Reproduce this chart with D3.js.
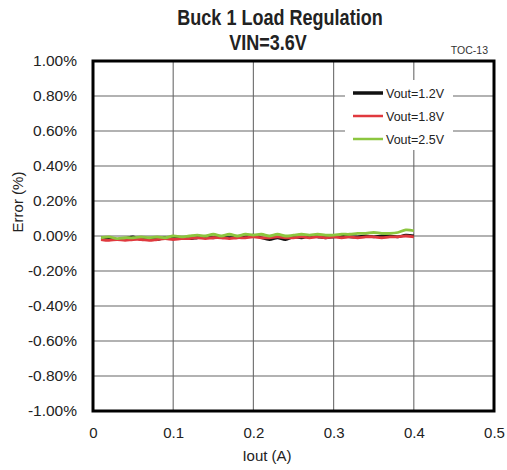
<!DOCTYPE html>
<html><head><meta charset="utf-8">
<script src="https://cdn.jsdelivr.net/npm/d3@7"></script>
<style>body{margin:0;background:#fff}text{font-family:"Liberation Sans",Arial,sans-serif}</style>
</head><body>
<svg id="c" width="507" height="470"></svg>
<script>
const titleLines = ["Buck 1 Load Regulation", "VIN=3.6V"];
const note = "TOC-13";
const xTicks = [0, 0.1, 0.2, 0.3, 0.4, 0.5];
const yTicks = [-1.0, -0.8, -0.6, -0.4, -0.2, 0, 0.2, 0.4, 0.6, 0.8, 1.0];
const seriesNames = ["Vout=1.2V", "Vout=1.8V", "Vout=2.5V"];
const seriesColors = ["#111111", "#e0393e", "#8cc63f"];
const iout = [0.01,0.02,0.03,0.04,0.05,0.06,0.07,0.08,0.09,0.10,0.11,0.12,0.13,0.14,0.15,0.16,0.17,0.18,0.19,0.20,
              0.21,0.22,0.23,0.24,0.25,0.26,0.27,0.28,0.29,0.30,0.31,0.32,0.33,0.34,0.35,0.36,0.37,0.38,0.39,0.40];
const v12 = [-0.010,-0.015,-0.020,-0.015,-0.005,-0.020,-0.015,-0.020,-0.010,-0.015,-0.010,-0.015,-0.010,-0.005,-0.010,-0.005,-0.010,-0.005,-0.005,0.005,
             -0.010,-0.020,-0.010,-0.020,-0.005,-0.010,0.000,-0.005,-0.010,-0.005,0.000,-0.005,-0.005,0.000,-0.005,0.000,0.000,-0.005,0.005,0.000];
const v18 = [-0.020,-0.025,-0.020,-0.025,-0.020,-0.020,-0.025,-0.020,-0.015,-0.020,-0.015,-0.015,-0.010,-0.015,-0.010,-0.010,-0.015,-0.010,-0.010,-0.005,
             -0.010,-0.010,-0.005,-0.010,-0.010,-0.005,-0.010,-0.005,-0.010,-0.005,-0.010,-0.005,-0.010,-0.005,-0.005,-0.010,-0.005,-0.005,0.000,-0.005];
const v25 = [-0.010,-0.005,-0.015,-0.010,-0.010,-0.005,-0.010,-0.005,-0.010,0.000,-0.005,0.000,0.005,0.000,0.010,0.000,0.010,0.000,0.010,0.005,
             0.010,0.000,0.010,0.000,0.005,0.010,0.005,0.010,0.005,0.005,0.010,0.010,0.015,0.015,0.020,0.015,0.015,0.020,0.035,0.030];
const seriesValues = [v12, v18, v25];

const svg = d3.select("#c");
const L = 93, R = 494, T = 61, B = 411;
const x = d3.scaleLinear().domain([0, 0.5]).range([L, R]);
const y = d3.scaleLinear().domain([-1, 1]).range([B, T]);

// grid
const g = svg.append("g");
g.selectAll("line.v").data(xTicks.slice(1, -1)).enter().append("line")
  .attr("x1", d => x(d)).attr("x2", d => x(d)).attr("y1", T).attr("y2", B)
  .attr("stroke", "#777").attr("stroke-width", 1.2);
g.selectAll("line.h").data(yTicks.slice(1, -1)).enter().append("line")
  .attr("x1", L).attr("x2", R).attr("y1", d => y(d)).attr("y2", d => y(d))
  .attr("stroke", "#666").attr("stroke-width", 1.2);

const xAxis = svg.append("g").attr("transform", `translate(0,${B})`)
  .call(d3.axisBottom(x).tickValues(xTicks).tickSize(0).tickPadding(16).tickFormat(d => d === 0 ? "0" : d3.format(".1f")(d)));
xAxis.select(".domain").remove();
xAxis.selectAll("text").attr("font-size", 15).attr("fill", "#222").style("font-family", '"Liberation Sans",Arial,sans-serif');

const yAxis = svg.append("g").attr("transform", `translate(${L},0)`)
  .call(d3.axisLeft(y).tickValues(yTicks).tickSize(0).tickPadding(16).tickFormat(d => d.toFixed(2) + "%"));
yAxis.select(".domain").remove();
yAxis.selectAll("text").attr("font-size", 15.5).attr("fill", "#222").style("font-family", '"Liberation Sans",Arial,sans-serif');

// lines
const line = d3.line().x((d, i) => x(iout[i])).y(d => y(d)).curve(d3.curveCatmullRom);
seriesValues.forEach((vals, k) => {
  svg.append("path").datum(vals).attr("d", line)
    .attr("fill", "none").attr("stroke", seriesColors[k]).attr("stroke-width", 2.8)
    .attr("stroke-linejoin", "round");
});

// legend
const lg = svg.append("g");
lg.append("rect").attr("x", 345).attr("y", 80).attr("width", 108).attr("height", 70).attr("fill", "#fff");
seriesNames.forEach((n, k) => {
  const yy = 93 + k * 23;
  lg.append("line").attr("x1", 353).attr("x2", 383).attr("y1", yy).attr("y2", yy)
    .attr("stroke", seriesColors[k]).attr("stroke-width", k === 0 ? 3.5 : 2.5);
  lg.append("text").attr("x", 386).attr("y", yy + 4.5).attr("font-size", 12.5).attr("fill", "#222").text(n);
});

// frame
svg.append("rect").attr("x", L).attr("y", T).attr("width", R - L).attr("height", B - T)
  .attr("fill", "none").attr("stroke", "#000").attr("stroke-width", 3);

// titles
titleLines.forEach((t, i) => {
  svg.append("text").attr("transform", `translate(${i === 0 ? 280 : 268},${25 + i * 25}) scale(0.82,1)`)
    .attr("text-anchor", "middle").attr("font-size", 22).attr("font-weight", "bold").attr("fill", "#222").text(t);
});
svg.append("text").attr("x", 488).attr("y", 54).attr("text-anchor", "end").attr("font-size", 10.5).attr("fill", "#333").text(note);
svg.append("text").attr("x", 267).attr("y", 461).attr("text-anchor", "middle").attr("font-size", 15).attr("fill", "#222").text("Iout (A)");
svg.append("text").attr("transform", "translate(23,202) rotate(-90)").attr("text-anchor", "middle").attr("font-size", 15).attr("fill", "#222").text("Error (%)");
</script>
</body></html>
